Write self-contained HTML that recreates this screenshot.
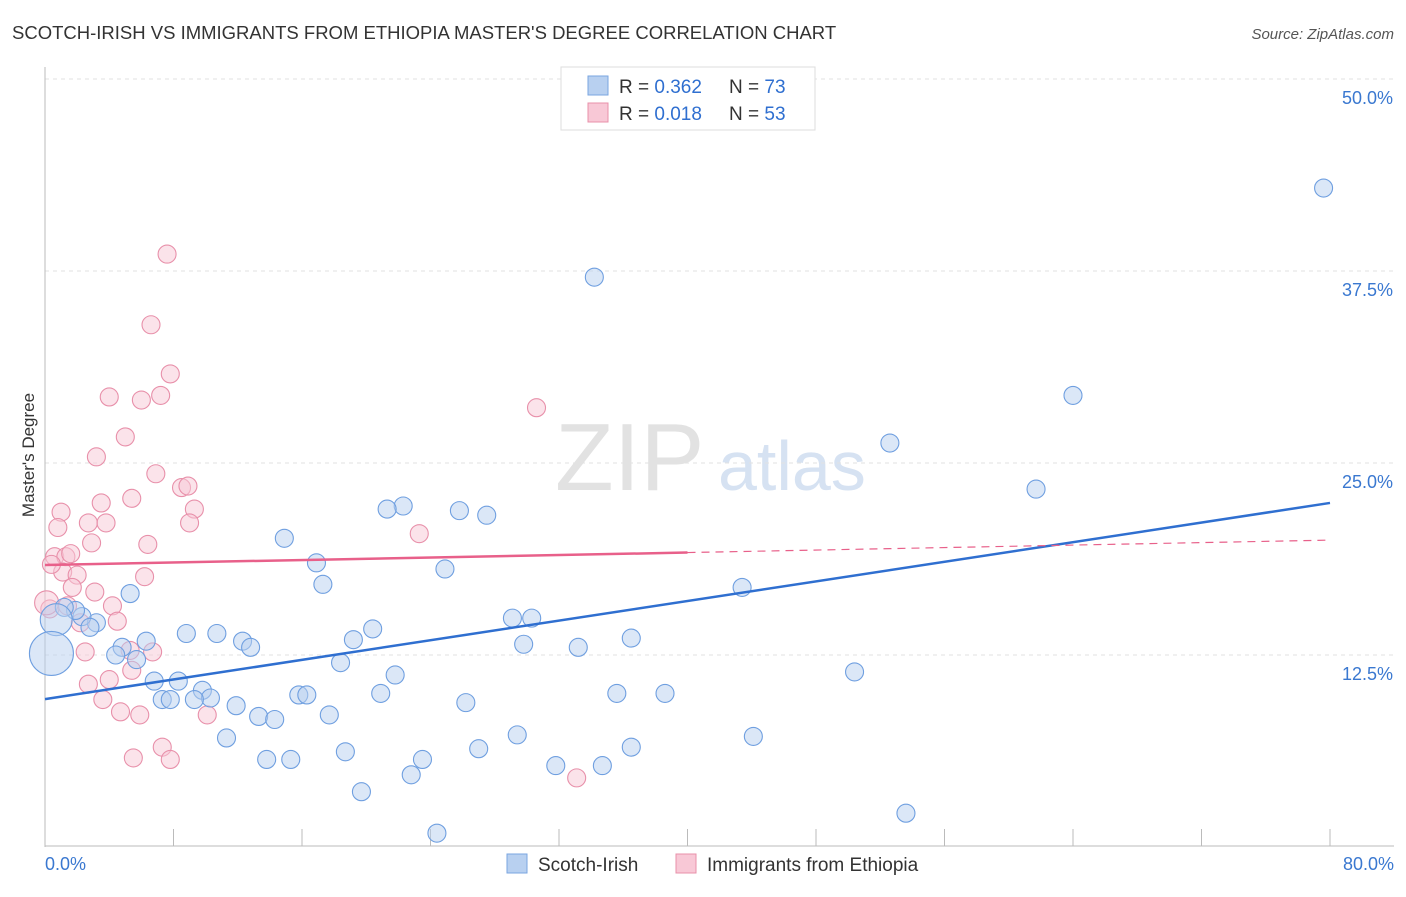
<!DOCTYPE html>
<html><head><meta charset="utf-8"><style>
body{margin:0;background:#fff;font-family:"Liberation Sans",sans-serif;}
svg text{font-family:"Liberation Sans",sans-serif;}
</style></head><body>
<svg id="chart" width="1406" height="892">
<text x="12" y="39" font-size="18.5" fill="#333">SCOTCH-IRISH VS IMMIGRANTS FROM ETHIOPIA MASTER'S DEGREE CORRELATION CHART</text>
<text x="1394" y="39" font-size="15" fill="#555" font-style="italic" text-anchor="end">Source: ZipAtlas.com</text>
<text x="34" y="455" font-size="17" fill="#333" transform="rotate(-90 34 455)" text-anchor="middle">Master's Degree</text>
<text x="555" y="490" font-size="96" fill="#e2e2e2" font-family="Liberation Serif">ZIP</text>
<text x="718" y="490" font-size="70" fill="#d6e2f2">atlas</text>
<g id="grid"></g><g id="axes"></g><g id="pts"></g><g id="lines"></g>
<g>
<rect x="561" y="67" width="254" height="63" fill="#fff" stroke="#ddd"/>
<rect x="588" y="76" width="20" height="19" fill="#b8d0f0" stroke="#7aa6e0"/>
<text x="619" y="93" font-size="19" fill="#333">R = <tspan fill="#2f6fd0">0.362</tspan></text>
<text x="729" y="93" font-size="19" fill="#333">N = <tspan fill="#2f6fd0">73</tspan></text>
<rect x="588" y="103" width="20" height="19" fill="#f8c8d6" stroke="#e890aa"/>
<text x="619" y="120" font-size="19" fill="#333">R = <tspan fill="#2f6fd0">0.018</tspan></text>
<text x="729" y="120" font-size="19" fill="#333">N = <tspan fill="#2f6fd0">53</tspan></text>
</g>
<g>
<rect x="507" y="854" width="20" height="19" fill="#b8d0f0" stroke="#7aa6e0"/>
<text x="538" y="871" font-size="19" fill="#333">Scotch-Irish</text>
<rect x="676" y="854" width="20" height="19" fill="#f8c8d6" stroke="#e890aa"/>
<text x="707" y="871" font-size="19" fill="#333">Immigrants from Ethiopia</text>
</g>
</svg>
<script>
const blueX=[79.6,34.2,64.0,52.6,61.7,22.3,21.3,25.8,27.5,14.9,16.9,24.9,17.3,43.4,5.3,29.1,30.3,20.4,36.5,19.2,8.8,10.7,12.3,12.8,6.3,29.8,33.2,4.8,3.2,2.3,1.9,1.2,2.8,4.4,5.7,18.4,21.8,50.4,6.8,8.3,9.8,10.3,7.3,7.8,9.3,15.8,16.3,20.9,35.6,38.6,11.9,26.2,17.7,13.3,14.3,11.3,29.4,44.1,18.7,27.0,36.5,13.8,15.3,23.5,31.8,34.7,22.8,19.7,24.4,53.6,0.7,0.4];
const blueY=[42.9,37.1,29.4,26.3,23.3,22.2,22.0,21.9,21.6,20.1,18.5,18.1,17.1,16.9,16.5,14.9,14.9,14.2,13.6,13.5,13.9,13.9,13.4,13.0,13.4,13.2,13.0,13.0,14.6,15.0,15.4,15.6,14.3,12.5,12.2,12.0,11.2,11.4,10.8,10.8,10.2,9.7,9.6,9.6,9.6,9.9,9.9,10.0,10.0,10.0,9.2,9.4,8.6,8.5,8.3,7.1,7.3,7.2,6.2,6.4,6.5,5.7,5.7,5.7,5.3,5.3,4.7,3.6,0.9,2.2,14.8,12.6];
const blueR=[9,9,9,9,9,9,9,9,9,9,9,9,9,9,9,9,9,9,9,9,9,9,9,9,9,9,9,9,9,9,9,9,9,9,9,9,9,9,9,9,9,9,9,9,9,9,9,9,9,9,9,9,9,9,9,9,9,9,9,9,9,9,9,9,9,9,9,9,9,9,16,22];
const pinkX=[7.6,6.6,7.8,4.0,6.0,7.2,5.0,3.2,6.9,8.5,8.9,5.4,3.5,1.0,9.3,0.8,2.7,3.8,9.0,23.3,30.6,2.9,6.4,0.6,1.3,1.6,1.1,2.0,6.2,0.4,1.7,3.1,4.2,0.3,1.4,4.5,2.2,2.5,6.7,5.3,2.7,4.0,3.6,4.7,5.9,10.1,5.4,7.3,7.8,5.5,33.1,0.1];
const pinkY=[38.6,34.0,30.8,29.3,29.1,29.4,26.7,25.4,24.3,23.4,23.5,22.7,22.4,21.8,22.0,20.8,21.1,21.1,21.1,20.4,28.6,19.8,19.7,18.9,18.9,19.1,17.9,17.7,17.6,18.4,16.9,16.6,15.7,15.5,15.7,14.7,14.6,12.7,12.7,12.8,10.6,10.9,9.6,8.8,8.6,8.6,11.5,6.5,5.7,5.8,4.5,15.9];
const pinkR=[9,9,9,9,9,9,9,9,9,9,9,9,9,9,9,9,9,9,9,9,9,9,9,9,9,9,9,9,9,9,9,9,9,9,9,9,9,9,9,9,9,9,9,9,9,9,9,9,9,9,9,12];
const yTicks=[12.5,25,37.5,50];
const xTickLabels=["0.0%","80.0%"];
const blueTrend=[9.63,22.4];
const pinkTrend=[18.36,19.98];
const pinkSolidEnd=40;
const NS="http://www.w3.org/2000/svg";
const X=v=>45+v/80*1285, Y=v=>847-v/12.5*192;
function mk(tag,attrs,parent){const e=document.createElementNS(NS,tag);for(const k in attrs)e.setAttribute(k,attrs[k]);document.getElementById(parent).appendChild(e);return e;}
yTicks.forEach(t=>{
 const l=mk('line',{x1:45,x2:1394,y1:Y(t),y2:Y(t),stroke:'#e2e2e2','stroke-dasharray':'4 4'},'grid');
 
 
 const tx=mk('text',{x:1393,y:Y(t)+25,'font-size':18,fill:'#3a78d0','text-anchor':'end'},'grid');
 tx.textContent=t.toFixed(1)+'%';
 
 
});
const ax=mk('line',{x1:45,x2:45,y1:67,y2:847,stroke:'#bbb'},'axes');


const bx=mk('line',{x1:45,x2:1394,y1:846,y2:846,stroke:'#bbb'},'axes');


for(let i=1;i<=10;i++){const t=mk('line',{x1:X(i*8),x2:X(i*8),y1:829,y2:846,stroke:'#bbb'},'axes');
 
 }
[[0,'start',45],[80,'end',1394]].forEach((d,i)=>{const t=mk('text',{x:d[2],y:870,'font-size':18,fill:'#3a78d0','text-anchor':d[1]},'axes');t.textContent=xTickLabels[i];
 
 });
function dots(xs,ys,rs,fill,stroke,name){xs.forEach((v,i)=>{const c=mk('circle',{cx:X(v),cy:Y(ys[i]),r:rs[i],fill:fill,'fill-opacity':0.5,stroke:stroke,'stroke-width':1.1},'pts');
 
 });}
dots(pinkX,pinkY,pinkR,'#f8c8d6','#e890aa','ethiopia-point');
dots(blueX,blueY,blueR,'#b8d0f0','#6f9fe0','scotch-irish-point');
const bl=mk('line',{x1:X(0),y1:Y(blueTrend[0]),x2:X(80),y2:Y(blueTrend[1]),stroke:'#2f6fd0','stroke-width':2.5},'lines');


const pm=pinkTrend[0]+(pinkTrend[1]-pinkTrend[0])*pinkSolidEnd/80;
const pl=mk('line',{x1:X(0),y1:Y(pinkTrend[0]),x2:X(pinkSolidEnd),y2:Y(pm),stroke:'#e8608a','stroke-width':2.5},'lines');


const pd=mk('line',{x1:X(pinkSolidEnd),y1:Y(pm),x2:X(80),y2:Y(pinkTrend[1]),stroke:'#e8608a','stroke-width':1.2,'stroke-dasharray':'8 6'},'lines');


</script>
</body></html>
